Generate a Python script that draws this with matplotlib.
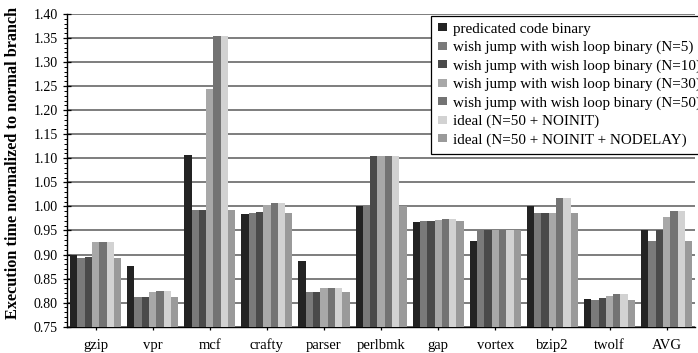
import matplotlib
matplotlib.use("Agg")
import matplotlib.pyplot as plt
import matplotlib.ticker as mticker
import numpy as np

# Execution time normalized to normal branch binary, per benchmark
benchmarks = ["gzip", "vpr", "mcf", "crafty", "parser", "perlbmk",
              "gap", "vortex", "bzip2", "twolf", "AVG"]

series_names = [
    "predicated code binary",
    "wish jump with wish loop binary (N=5)",
    "wish jump with wish loop binary (N=10)",
    "wish jump with wish loop binary (N=30)",
    "wish jump with wish loop binary (N=50)",
    "ideal (N=50 + NOINIT)",
    "ideal (N=50 + NOINIT + NODELAY)",
]

predicated = [0.899, 0.876, 1.107, 0.984, 0.887, 1.001, 0.967, 0.929, 1.001, 0.807, 0.950]
wish_n5 = [0.893, 0.811, 0.992, 0.986, 0.822, 1.001, 0.970, 0.950, 0.986, 0.805, 0.929]
wish_n10 = [0.894, 0.811, 0.992, 0.988, 0.823, 1.105, 0.970, 0.950, 0.987, 0.809, 0.952]
wish_n30 = [0.926, 0.822, 1.243, 1.003, 0.831, 1.105, 0.971, 0.950, 0.987, 0.813, 0.977]
wish_n50 = [0.926, 0.824, 1.355, 1.008, 0.831, 1.105, 0.974, 0.950, 1.017, 0.817, 0.990]
ideal_noinit = [0.926, 0.824, 1.355, 1.008, 0.831, 1.105, 0.974, 0.950, 1.017, 0.817, 0.990]
ideal_nodelay = [0.893, 0.811, 0.992, 0.986, 0.822, 1.001, 0.970, 0.950, 0.986, 0.805, 0.929]

series = [predicated, wish_n5, wish_n10, wish_n30, wish_n50, ideal_noinit, ideal_nodelay]
colors = ["#232323", "#7a7a7a", "#4a4a4a", "#a8a8a8", "#737373", "#d2d2d2", "#9a9a9a"]

plt.rcParams.update({
    "font.family": ["Liberation Serif", "DejaVu Serif"],
    "font.size": 9.5,
})

fig = plt.figure(figsize=(6.98, 3.53), dpi=100)
ax = fig.add_axes([0.096, 0.0745, 0.9, 0.886])

x = np.arange(len(benchmarks))
n = len(series)
width = 0.895 / n
for i, (vals, name, col) in enumerate(zip(series, series_names, colors)):
    ax.bar(x - 0.895 / 2 + width * (i + 0.5), vals, width,
           color=col, label=name, linewidth=0, zorder=3)

ax.set_xlim(-0.5, len(benchmarks) - 0.5)
ax.set_ylim(0.75, 1.40)
ax.yaxis.set_major_locator(mticker.MultipleLocator(0.05))
ax.yaxis.set_minor_locator(mticker.MultipleLocator(0.01))
ax.yaxis.set_major_formatter(mticker.FormatStrFormatter("%.2f"))
ax.set_xticks(x)
ax.set_xticklabels(benchmarks, fontsize=10.5)

ax.grid(axis="y", color="#5a5a5a", linewidth=1.1, zorder=1)
ax.set_axisbelow(True)
ax.spines[["top", "right"]].set_visible(False)
ax.spines["left"].set_linewidth(1.0)
ax.spines["bottom"].set_linewidth(1.0)
ax.tick_params(axis="y", which="major", direction="inout", length=6, width=0.9, labelsize=10)
ax.tick_params(axis="y", which="minor", direction="out", length=2.5, width=0.7)
ax.tick_params(axis="x", direction="inout", length=5, width=0.9, pad=6)

ax.set_ylabel("Execution time normalized to normal branch",
              fontsize=11.7, fontweight="bold")
ax.yaxis.set_label_coords(-0.073, 0.525)

# legend anchored in figure coords; the right part runs past the canvas edge
leg = fig.legend(loc="upper left", bbox_to_anchor=(431 / 698, 1 - 16 / 353),
                 fontsize=10.9, frameon=True, fancybox=False, framealpha=1,
                 edgecolor="black", handlelength=0.6, handleheight=0.45,
                 handletextpad=0.4, labelspacing=0.33, borderpad=0.45,
                 borderaxespad=0)
leg.get_frame().set_linewidth(0.9)
leg.set_zorder(5)

fig.savefig("out.png", dpi=100)
